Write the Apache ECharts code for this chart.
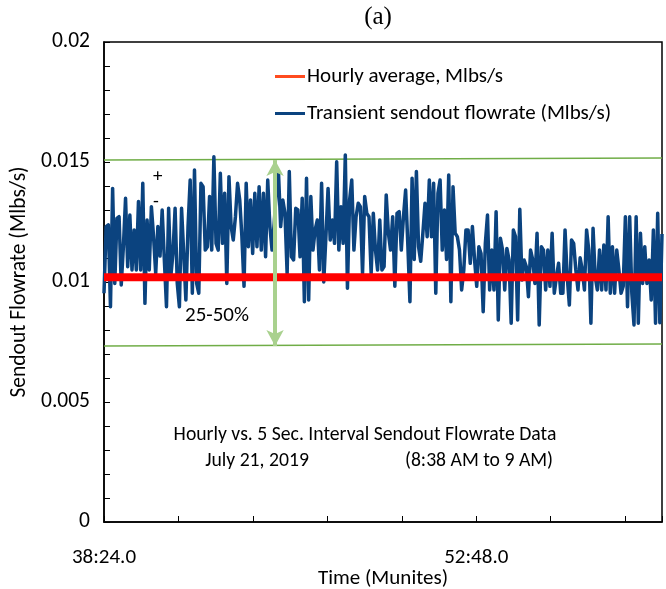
<!DOCTYPE html>
<html>
<head>
<meta charset="utf-8">
<script src="https://cdn.jsdelivr.net/npm/echarts@6/dist/echarts.min.js"></script>
<style>
  html, body { margin: 0; padding: 0; background: #ffffff; }
  #chart { width: 666px; height: 589px; }
</style>
</head>
<body>
<div id="chart"></div>
<script>
// Sendout flowrate, 5-second samples from 8:38:24 to 9:00 (Mlbs/s)
const sampleStepSec = 5;
const startClockSec = 38 * 60 + 24;  // minutes:seconds past 8 AM at the first sample
const transientFlow = [
  0.00953, 0.01231, 0.01238, 0.00897, 0.01390, 0.00994, 0.01265, 0.01272, 0.00988, 0.01147,
  0.01349, 0.01064, 0.01279, 0.01050, 0.01217, 0.01050, 0.01335, 0.01050, 0.01411, 0.00911,
  0.01258, 0.01050, 0.01314, 0.01189, 0.01036, 0.01231, 0.01108, 0.01300, 0.01094, 0.00897,
  0.01307, 0.01022, 0.01119, 0.01307, 0.00994, 0.00897, 0.01307, 0.01119, 0.00925, 0.01231,
  0.01425,
  0.00953, 0.01467, 0.00994, 0.00953, 0.01411, 0.01397, 0.01133, 0.01147, 0.01356, 0.01133,
  0.01522, 0.01161, 0.01133, 0.01453, 0.01161, 0.01370, 0.00994, 0.01439, 0.01231, 0.01175,
  0.01272, 0.01411, 0.01342, 0.01189, 0.00982, 0.01411, 0.01147, 0.01342, 0.01119, 0.01370,
  0.01147, 0.01397, 0.01133, 0.01370, 0.01105, 0.01425, 0.01231, 0.01133, 0.01244, 0.01383,
  0.01453, 0.01231, 0.01342, 0.01286,
  0.01036, 0.01460, 0.01105, 0.01092, 0.01307, 0.01300, 0.01105, 0.01349, 0.00918, 0.01432,
  0.00925, 0.01356, 0.01133, 0.01217, 0.01258, 0.01050, 0.01411, 0.01000, 0.01189, 0.01390,
  0.01175, 0.01258, 0.01161, 0.01501, 0.01133, 0.01314, 0.01161, 0.01529, 0.00974, 0.01342,
  0.01425, 0.01133, 0.01272, 0.01328, 0.01314, 0.01036, 0.01356, 0.01286, 0.01272, 0.01036,
  0.01286, 0.01133,
  0.01050, 0.01258, 0.01050, 0.01064, 0.01363, 0.01203, 0.01133, 0.01272, 0.00982, 0.01286,
  0.01293, 0.01133, 0.01272, 0.01383, 0.01161, 0.00918, 0.01432, 0.01094, 0.01460, 0.01147,
  0.01086, 0.01203, 0.01328, 0.01189, 0.01425, 0.01189, 0.01411, 0.00953, 0.01370, 0.01425,
  0.01133, 0.01300, 0.01094, 0.01446, 0.00918, 0.01397, 0.01203, 0.01189, 0.01133, 0.00967,
  0.01050, 0.01217,
  0.01217, 0.01078, 0.01231, 0.01092, 0.00982, 0.01147, 0.01119, 0.00876, 0.01161, 0.01279,
  0.00967, 0.01133, 0.00967, 0.01293, 0.00842, 0.01182, 0.01133, 0.00967, 0.01140, 0.01092,
  0.00828, 0.01217, 0.01189, 0.00842, 0.01303, 0.01008, 0.01092, 0.01064, 0.00939, 0.01133,
  0.01092, 0.00994, 0.01203, 0.00821, 0.01147, 0.01133, 0.00967, 0.01133, 0.00982, 0.01203,
  0.00953, 0.01022, 0.01078, 0.00953,
  0.00953, 0.01217, 0.01022, 0.00904, 0.01175, 0.01161, 0.01050, 0.00967, 0.01101, 0.01050,
  0.00967, 0.01217, 0.01133, 0.00828, 0.01224, 0.01022, 0.00967, 0.01133, 0.00967, 0.01154,
  0.00967, 0.01272, 0.00953, 0.01147, 0.00953, 0.01133, 0.01050, 0.00953, 0.00982, 0.01272,
  0.00897, 0.01272, 0.00953, 0.00821, 0.01272, 0.00828, 0.01203, 0.00994, 0.01147, 0.00994,
  0.01092, 0.00925, 0.01217, 0.00828, 0.01286, 0.00830, 0.01200
];
const hourlyAverage = [0.0102, 0.0102];      // start / end of the hour window
const upperEnvelope = [0.01508, 0.01517];    // start / end
const lowerEnvelope = [0.00733, 0.00742];    // start / end
const spreadArrowTimeSec = 397;              // where the 25-50% arrow is drawn
const xTickLabels = ['38:24.0', '52:48.0'];
const yTickLabels = ['0', '0.005', '0.01', '0.015', '0.02'];
const legendNames = ['Hourly average, Mlbs/s', 'Transient sendout flowrate (Mlbs/s)'];

const FONT = 'Carlito, Lato, sans-serif';
const lastSec = (transientFlow.length - 1) * sampleStepSec;
const flowPoints = transientFlow.map((v, i) => [i * sampleStepSec, v]);
const ends = [0, lastSec];
const pairUp = arr => arr.map((v, i) => [ends[i], v]);

function clockLabel(sec) {
  const total = startClockSec + sec;
  const mm = Math.floor(total / 60 + 1e-9);
  const ss = total - mm * 60;
  return mm + ':' + Math.abs(ss).toFixed(1).padStart(4, '0');
}

const chart = echarts.init(document.getElementById('chart'), null, { renderer: 'canvas' });
chart.setOption({
  animation: false,
  backgroundColor: '#ffffff',
  grid: {
    left: 104, right: 4, top: 42, bottom: 67,
    outerBoundsMode: 'none', containLabel: false,
    show: true, borderColor: '#000000', borderWidth: 1.5, backgroundColor: 'transparent'
  },
  legend: {
    orient: 'vertical', left: 275, top: 66, itemGap: 16, padding: 0,
    itemWidth: 30, itemHeight: 3, icon: 'rect',
    textStyle: { fontFamily: FONT, fontSize: 21, color: '#000000', padding: [0, 0, 0, -3] },
    selectedMode: false,
    data: [
      { name: legendNames[0], itemStyle: { color: '#ff4b1f' } },
      { name: legendNames[1], itemStyle: { color: '#0b437f' } }
    ]
  },
  xAxis: {
    type: 'value', min: 0, max: lastSec, interval: 172.8,
    axisLine: { show: true, lineStyle: { color: '#000000', width: 1.5 } },
    axisTick: { show: true, inside: true, length: 6, lineStyle: { color: '#000000', width: 1 } },
    splitLine: { show: false },
    axisLabel: {
      margin: 25, fontFamily: FONT, fontSize: 21, color: '#000000',
      showMinLabel: true, showMaxLabel: true,
      formatter: v => { const s = clockLabel(v); return xTickLabels.includes(s) ? s : ''; }
    },
    name: 'Time (Munites)', nameLocation: 'middle', nameGap: 46, nameMoveOverlap: false,
    nameTextStyle: { fontFamily: FONT, fontSize: 21, color: '#000000' }
  },
  yAxis: {
    type: 'value', min: 0, max: 0.02, interval: 0.001,
    axisLine: { show: true, lineStyle: { color: '#000000', width: 1.5 } },
    axisTick: { show: true, inside: true, length: 6, lineStyle: { color: '#000000', width: 1 } },
    splitLine: { show: false },
    axisLabel: {
      margin: 14, fontFamily: FONT, fontSize: 21.5, color: '#000000',
      formatter: v => { const s = String(+v.toFixed(4)); return yTickLabels.includes(s) ? s : ''; }
    },
    name: 'Sendout Flowrate (Mlbs/s)', nameLocation: 'middle', nameGap: 73, nameRotate: 90,
    nameMoveOverlap: false,
    nameTextStyle: { fontFamily: FONT, fontSize: 21.5, color: '#000000' }
  },
  series: [
    {
      name: 'upper envelope', type: 'line', data: pairUp(upperEnvelope),
      symbol: 'none', silent: true, z: 2,
      lineStyle: { color: '#70ad47', width: 1.5 }
    },
    {
      name: 'lower envelope', type: 'line', data: pairUp(lowerEnvelope),
      symbol: 'none', silent: true, z: 2,
      lineStyle: { color: '#70ad47', width: 1.5 }
    },
    {
      name: legendNames[1], type: 'line', data: flowPoints,
      symbol: 'none', z: 3,
      lineStyle: { color: '#0b437f', width: 3.5, join: 'round' },
      itemStyle: { color: '#0b437f' }
    },
    {
      name: legendNames[0], type: 'line', data: pairUp(hourlyAverage),
      symbol: 'none', z: 4,
      lineStyle: { color: '#ff0000', width: 8 },
      itemStyle: { color: '#ff0000' }
    },
    {
      name: 'spread', type: 'line', data: [], z: 5, silent: true,
      markLine: {
        silent: true, animation: false,
        symbol: ['arrow', 'arrow'], symbolSize: [13, 16],
        label: { show: false },
        lineStyle: { color: '#a9d18e', width: 4, type: 'solid' },
        data: [[
          { coord: [spreadArrowTimeSec, upperEnvelope[0]] },
          { coord: [spreadArrowTimeSec, lowerEnvelope[0]] }
        ]]
      }
    }
  ],
  graphic: [
    { type: 'text', x: 378, y: 5, style: { text: '(a)', font: '25px "Liberation Serif", serif', fill: '#000000', align: 'center' } },
    { type: 'text', x: 153, y: 168, style: { text: '+', font: '19px ' + FONT, fill: '#000000' } },
    { type: 'text', x: 153, y: 193, style: { text: '-', font: '19px ' + FONT, fill: '#000000' } },
    { type: 'text', x: 185, y: 305, style: { text: '25-50%', font: '21px ' + FONT, fill: '#000000' } },
    { type: 'text', x: 365, y: 425, style: { text: 'Hourly vs. 5 Sec. Interval Sendout Flowrate Data', font: '19.7px ' + FONT, fill: '#000000', align: 'center' } },
    { type: 'text', x: 257, y: 451, style: { text: 'July 21, 2019', font: '19.7px ' + FONT, fill: '#000000', align: 'center' } },
    { type: 'text', x: 479, y: 451, style: { text: '(8:38 AM to 9 AM)', font: '19.7px ' + FONT, fill: '#000000', align: 'center' } }
  ]
});
</script>
</body>
</html>
